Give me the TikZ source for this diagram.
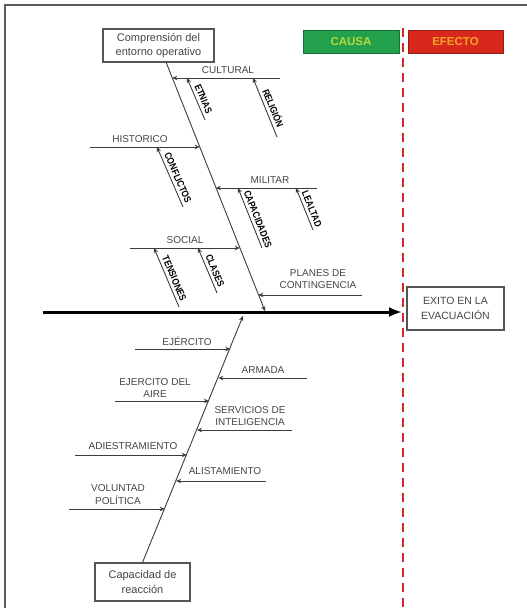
\documentclass[tikz,border=0pt]{standalone}
\usepackage{fontspec}
\setmainfont{Liberation Sans}
\usetikzlibrary{arrows.meta,calc}
\definecolor{ink}{HTML}{3C3C3C}
\definecolor{txt}{HTML}{454545}
\definecolor{boxc}{HTML}{555555}
\definecolor{frame}{HTML}{5A5A5A}
\definecolor{causag}{HTML}{22A04B}
\definecolor{causat}{HTML}{B9D63A}
\definecolor{efector}{HTML}{D8281E}
\definecolor{efectot}{HTML}{F5A320}
\definecolor{dashr}{HTML}{D9262A}
\tikzset{
  lbl/.style={font=\fontsize{10}{12.5}\selectfont, text=txt, align=center, inner sep=0pt},
  boxn/.style={draw=boxc, line width=1.1pt, fill=white, text=txt, align=center, inner sep=0pt, font=\fontsize{11}{14.5}\selectfont},
  tagbox/.style={draw=#1!70!black, line width=0.8pt, fill=#1, inner sep=0pt, font=\fontsize{11.5}{12}\selectfont\bfseries},
  bone/.style={draw=ink, line width=0.9pt},
  tip/.style={-{Stealth[length=5pt,width=4.5pt]}},
  subbone/.style={draw=ink, line width=0.9pt, {Stealth[length=5pt,width=4.5pt]}-},
  sublbl/.style={sloped, above=1pt, pos=0.56, inner sep=2pt, font=\fontsize{9.8}{10}\selectfont\bfseries, text=black},
}
\begin{document}
\begin{tikzpicture}[x=1pt,y=-1pt]
\useasboundingbox (0,0) rectangle (527,608);
% outer frame (partly cropped)
\coordinate (F0) at (5,608);
\coordinate (F1) at (5,5);
\coordinate (F2) at (527,5);
\draw[frame, line width=1.3pt] (F0) -- (F1) -- (F2);

% red dashed divider
\coordinate (D0) at (403,28);
\coordinate (D1) at (403,608);
\draw[dashr, line width=2.6pt, dash pattern=on 9pt off 6pt] (D0) -- (D1);

% header tags
\node[tagbox=causag, text=causat, minimum width=96pt, minimum height=23pt] (causa) at (351,41.5) {CAUSA};
\node[tagbox=efector, text=efectot, minimum width=95pt, minimum height=23pt] (efecto) at (455.5,41.5) {EFECTO};

% boxes
\node[boxn, minimum width=111pt, minimum height=33pt] (comp) at (158.5,45.5) {Comprensión del\\entorno operativo};
\node[boxn, minimum width=95pt, minimum height=38pt] (cap) at (142.5,582) {Capacidad de\\reacción};
\node[boxn, minimum width=97pt, minimum height=43pt, font=\fontsize{10.5}{15}\selectfont] (eff) at (455.5,308.5) {EXITO EN LA\\EVACUACIÓN};

% spine
\coordinate (S0) at (43,312);
\coordinate (S1) at (402,312);
\draw[black, line width=3pt, -{Latex[length=13pt,width=10pt]}] (S0) -- (S1);

% main diagonal bones
\coordinate (U0) at (166,62);
\coordinate (U1) at (265,311);
\draw[bone, tip] (U0) -- (U1);
\coordinate (L1) at (243,316);
\draw[bone, tip] (cap.north) -- (L1);

% upper horizontal bones
\coordinate (cu0) at (280,78);   \coordinate (cu1) at (172.3,78);
\coordinate (hi0) at (90,147);   \coordinate (hi1) at (199.7,147);
\coordinate (mi0) at (317,188);  \coordinate (mi1) at (215.9,188);
\coordinate (so0) at (130,248);  \coordinate (so1) at (239.7,248);
\coordinate (pl0) at (362,295);  \coordinate (pl1) at (258.3,295);
\draw[bone, tip] (cu0) -- (cu1);
\draw[bone, tip] (hi0) -- (hi1);
\draw[bone, tip] (mi0) -- (mi1);
\draw[bone, tip] (so0) -- (so1);
\draw[bone, tip] (pl0) -- (pl1);
\node[lbl] (lcu) at (228,70) {CULTURAL};
\node[lbl] (lhi) at (140,139) {HISTORICO};
\node[lbl] (lmi) at (270,180.5) {MILITAR};
\node[lbl] (lso) at (185,240.5) {SOCIAL};
\node[lbl] (lpl) at (318,279) {PLANES DE\\CONTINGENCIA};

% sub-bones
\coordinate (et0) at (187,78);  \coordinate (et1) at (205,120);
\coordinate (re0) at (253,78);  \coordinate (re1) at (277,137);
\coordinate (co0) at (157,147); \coordinate (co1) at (183,207);
\coordinate (ca0) at (238,188); \coordinate (ca1) at (262,248);
\coordinate (le0) at (296,188); \coordinate (le1) at (313,230);
\coordinate (te0) at (154,248); \coordinate (te1) at (179,307);
\coordinate (cl0) at (198,248); \coordinate (cl1) at (217,293);
\draw[subbone] (et0) -- node[sublbl] (tet) {\scalebox{0.85}[1]{ETNIAS}} (et1);
\draw[subbone] (re0) -- node[sublbl] (tre) {\scalebox{0.85}[1]{RELIGIÓN}} (re1);
\draw[subbone] (co0) -- node[sublbl] (tco) {\scalebox{0.85}[1]{CONFLICTOS}} (co1);
\draw[subbone] (ca0) -- node[sublbl] (tca) {\scalebox{0.85}[1]{CAPACIDADES}} (ca1);
\draw[subbone] (le0) -- node[sublbl] (tle) {\scalebox{0.85}[1]{LEALTAD}} (le1);
\draw[subbone] (te0) -- node[sublbl] (tte) {\scalebox{0.85}[1]{TENSIONES}} (te1);
\draw[subbone] (cl0) -- node[sublbl] (tcl) {\scalebox{0.85}[1]{CLASES}} (cl1);

% lower horizontal bones
\coordinate (ej0) at (135,349);  \coordinate (ej1) at (230.3,349);
\coordinate (ar0) at (307,378);  \coordinate (ar1) at (218.4,378);
\coordinate (ai0) at (115,401);  \coordinate (ai1) at (209,401);
\coordinate (se0) at (292,430);  \coordinate (se1) at (197.1,430);
\coordinate (ad0) at (75,455);   \coordinate (ad1) at (186.8,455);
\coordinate (al0) at (266,481);  \coordinate (al1) at (176.2,481);
\coordinate (vo0) at (69,509);   \coordinate (vo1) at (164.7,509);
\draw[bone, tip] (ej0) -- (ej1);
\draw[bone, tip] (ar0) -- (ar1);
\draw[bone, tip] (ai0) -- (ai1);
\draw[bone, tip] (se0) -- (se1);
\draw[bone, tip] (ad0) -- (ad1);
\draw[bone, tip] (al0) -- (al1);
\draw[bone, tip] (vo0) -- (vo1);
\node[lbl] (lej) at (187,341) {EJÉRCITO};
\node[lbl] (lar) at (263,370) {ARMADA};
\node[lbl] (lai) at (155,388) {EJERCITO DEL\\AIRE};
\node[lbl] (lse) at (250,416) {SERVICIOS DE\\INTELIGENCIA};
\node[lbl] (lad) at (133,446) {ADIESTRAMIENTO};
\node[lbl] (lal) at (225,471.5) {ALISTAMIENTO};
\node[lbl] (lvo) at (118,494.5) {VOLUNTAD\\POLÍTICA};
\end{tikzpicture}
\end{document}
